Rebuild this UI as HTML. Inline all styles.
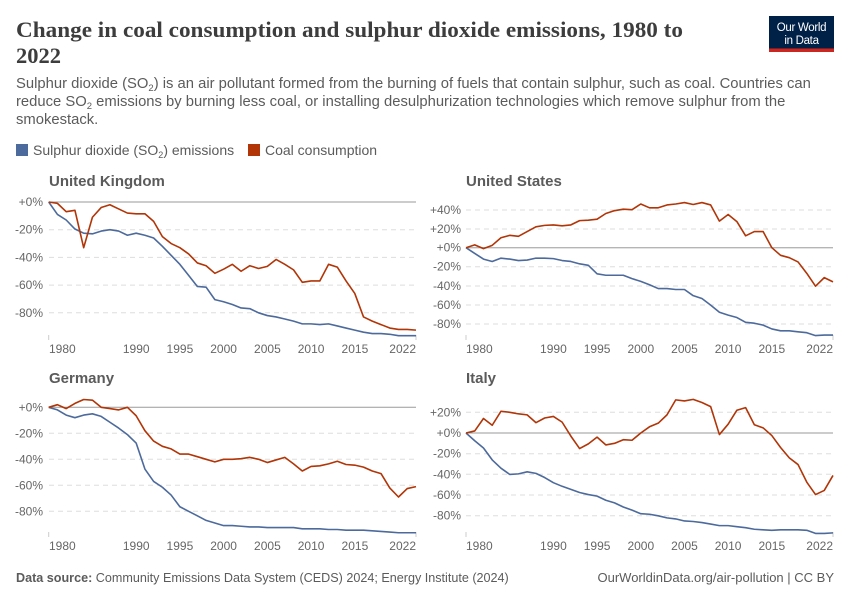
<!DOCTYPE html>
<html><head><meta charset="utf-8"><style>
html,body{margin:0;padding:0;background:#fff;}
svg{display:block;}
</style></head><body>
<svg width="850" height="600" viewBox="0 0 850 600" xmlns="http://www.w3.org/2000/svg" font-family="'Liberation Sans', sans-serif">
<rect width="850" height="600" fill="#fff"/>
<!-- Title -->
<text x="16" y="37" font-family="'Liberation Serif', serif" font-size="22.5" font-weight="bold" fill="#3d3d3d" textLength="667" lengthAdjust="spacingAndGlyphs">Change in coal consumption and sulphur dioxide emissions, 1980 to</text>
<text x="16" y="63" font-family="'Liberation Serif', serif" font-size="22.5" font-weight="bold" fill="#3d3d3d">2022</text>
<!-- Logo -->
<rect x="769" y="16" width="65" height="36" fill="#002147"/>
<rect x="769" y="48.5" width="65" height="3.5" fill="#ce261e"/>
<text x="801.5" y="31" text-anchor="middle" font-size="11.5" fill="#fff" letter-spacing="-0.3">Our World</text>
<text x="801.5" y="44" text-anchor="middle" font-size="11.5" fill="#fff" letter-spacing="-0.3">in Data</text>
<!-- Subtitle -->
<g font-size="14.8" fill="#5b5b5b">
<text x="16" y="88">Sulphur dioxide (SO<tspan font-size="9.5" dy="3">2</tspan><tspan dy="-3">) is an air pollutant formed from the burning of fuels that contain sulphur, such as coal. Countries can</tspan></text>
<text x="16" y="106">reduce SO<tspan font-size="9.5" dy="3">2</tspan><tspan dy="-3"> emissions by burning less coal, or installing desulphurization technologies which remove sulphur from the</tspan></text>
<text x="16" y="124">smokestack.</text>
</g>
<!-- Legend -->
<rect x="16" y="144" width="12" height="12" fill="#4c6a9c"/>
<text x="33" y="155" font-size="14" fill="#5b5b5b">Sulphur dioxide (SO<tspan font-size="9" dy="3">2</tspan><tspan dy="-3">) emissions</tspan></text>
<rect x="248" y="144" width="12" height="12" fill="#b13507"/>
<text x="265" y="155" font-size="14" fill="#5b5b5b">Coal consumption</text>

<!-- ===== United Kingdom ===== -->
<text x="49" y="186" font-size="15" font-weight="bold" fill="#5b5b5b">United Kingdom</text>
<g stroke="#dddddd" stroke-width="1" stroke-dasharray="5,4">
<line x1="49" y1="229.7" x2="416" y2="229.7"/><line x1="49" y1="257.4" x2="416" y2="257.4"/><line x1="49" y1="285.1" x2="416" y2="285.1"/><line x1="49" y1="312.8" x2="416" y2="312.8"/>
</g>
<line x1="49" y1="202" x2="416" y2="202" stroke="#9a9a9a" stroke-width="1"/>
<g font-size="12" fill="#666" text-anchor="end">
<text x="43" y="206">+0%</text><text x="43" y="233.7">-20%</text><text x="43" y="261.4">-40%</text><text x="43" y="289.1">-60%</text><text x="43" y="316.8">-80%</text>
</g>
<g stroke="#ccc"><line x1="48.7" y1="335" x2="48.7" y2="340"/><line x1="416" y1="335" x2="416" y2="340"/></g>
<g font-size="12" fill="#666" text-anchor="middle">
<text x="49" y="353" text-anchor="start">1980</text><text x="136.2" y="353">1990</text><text x="179.9" y="353">1995</text><text x="223.6" y="353">2000</text><text x="267.4" y="353">2005</text><text x="311.1" y="353">2010</text><text x="354.9" y="353">2015</text><text x="416" y="353" text-anchor="end">2022</text>
</g>
<g transform="translate(48.7,202) scale(8.745,1.385)" fill="none" stroke-width="1.6" stroke-linejoin="round">
<polyline vector-effect="non-scaling-stroke" stroke="#4c6a9c" points="0,0 1,9 2,13 3,19.5 4,22.5 5,23 6,21 7,20 8,21 9,24 10,22.5 11,24 12,26 13,32 14,38.5 15,45 16,53 17,61 18,61.5 19,70.5 20,72 21,74 22,76.5 23,77 24,80 25,82 26,83 27,84.5 28,86 29,88 30,88 31,88.5 32,88 33,89.5 34,91 35,92.5 36,94 37,95 38,95 39,95.5 40,96.5 41,96.5 42,96.5"/>
<polyline vector-effect="non-scaling-stroke" stroke="#b13507" points="0,0 1,1 2,7 3,6 4,33 5,11 6,4 7,2 8,5 9,8 10,8.5 11,8.5 12,14 13,25 14,30 15,33 16,37.5 17,44 18,46 19,51.5 20,48.5 21,45 22,50 23,46 24,48 25,46.5 26,41.5 27,45 28,49 29,58 30,57 31,57 32,45 33,47 34,57 35,66 36,83 37,86 38,88.5 39,91 40,92 41,92 42,92.5"/>
</g>

<!-- ===== United States ===== -->
<text x="466" y="186" font-size="15" font-weight="bold" fill="#5b5b5b">United States</text>
<g stroke="#dddddd" stroke-width="1" stroke-dasharray="5,4">
<line x1="466" y1="210" x2="833" y2="210"/><line x1="466" y1="229" x2="833" y2="229"/><line x1="466" y1="266.7" x2="833" y2="266.7"/><line x1="466" y1="286" x2="833" y2="286"/><line x1="466" y1="305" x2="833" y2="305"/><line x1="466" y1="324" x2="833" y2="324"/>
</g>
<line x1="466" y1="247.7" x2="833" y2="247.7" stroke="#b5b5b5" stroke-width="1.3"/>
<g font-size="12" fill="#666" text-anchor="end">
<text x="461" y="214">+40%</text><text x="461" y="233">+20%</text><text x="461" y="251.7">+0%</text><text x="461" y="270.7">-20%</text><text x="461" y="290">-40%</text><text x="461" y="309">-60%</text><text x="461" y="328">-80%</text>
</g>
<g stroke="#ccc"><line x1="466" y1="335" x2="466" y2="340"/><line x1="833" y1="335" x2="833" y2="340"/></g>
<g font-size="12" fill="#666" text-anchor="middle">
<text x="466" y="353" text-anchor="start">1980</text><text x="553.4" y="353">1990</text><text x="597.1" y="353">1995</text><text x="640.8" y="353">2000</text><text x="684.5" y="353">2005</text><text x="728.1" y="353">2010</text><text x="771.8" y="353">2015</text><text x="833" y="353" text-anchor="end">2022</text>
</g>
<g transform="translate(466,247.7) scale(8.738,0.95)" fill="none" stroke-width="1.6" stroke-linejoin="round">
<polyline vector-effect="non-scaling-stroke" stroke="#4c6a9c" points="0,0 1,6 2,12 3,14.5 4,11 5,12 6,13.5 7,13 8,11 9,11 10,11.5 11,13.5 12,14.5 13,17 14,18.5 15,27.5 16,29 17,29 18,29 19,32.5 20,35.5 21,39 22,43 23,43 24,44 25,44 26,50.5 27,53.5 28,60.5 29,68 30,71 31,73.5 32,78.5 33,79.5 34,81.5 35,85.5 36,87.5 37,87.5 38,88.5 39,89.5 40,92.5 41,92 42,92"/>
<polyline vector-effect="non-scaling-stroke" stroke="#b13507" points="0,0 1,-3 2,1 3,-2.5 4,-10.5 5,-13 6,-12 7,-17 8,-22 9,-23.5 10,-24 11,-23 12,-24 13,-28.5 14,-29 15,-30 16,-36 17,-39 18,-40.5 19,-40 20,-46 21,-42 22,-42 23,-45 24,-46 25,-47.5 26,-45.5 27,-47.5 28,-45 29,-28 30,-35 31,-27.5 32,-12.5 33,-17 34,-17 35,0 36,8 37,10.5 38,15 39,27 40,40.5 41,31.5 42,36"/>
</g>

<!-- ===== Germany ===== -->
<text x="49" y="383" font-size="15" font-weight="bold" fill="#5b5b5b">Germany</text>
<g stroke="#dddddd" stroke-width="1" stroke-dasharray="5,4">
<line x1="49" y1="433.3" x2="416" y2="433.3"/><line x1="49" y1="459.3" x2="416" y2="459.3"/><line x1="49" y1="485.3" x2="416" y2="485.3"/><line x1="49" y1="511.3" x2="416" y2="511.3"/>
</g>
<line x1="49" y1="407.3" x2="416" y2="407.3" stroke="#9a9a9a" stroke-width="1"/>
<g font-size="12" fill="#666" text-anchor="end">
<text x="43" y="411.3">+0%</text><text x="43" y="437.3">-20%</text><text x="43" y="463.3">-40%</text><text x="43" y="489.3">-60%</text><text x="43" y="515.3">-80%</text>
</g>
<g stroke="#ccc"><line x1="48.7" y1="532" x2="48.7" y2="537"/><line x1="416" y1="532" x2="416" y2="537"/></g>
<g font-size="12" fill="#666" text-anchor="middle">
<text x="49" y="550" text-anchor="start">1980</text><text x="136.2" y="550">1990</text><text x="179.9" y="550">1995</text><text x="223.6" y="550">2000</text><text x="267.4" y="550">2005</text><text x="311.1" y="550">2010</text><text x="354.9" y="550">2015</text><text x="416" y="550" text-anchor="end">2022</text>
</g>
<g transform="translate(48.7,407.3) scale(8.745,1.3)" fill="none" stroke-width="1.6" stroke-linejoin="round">
<polyline vector-effect="non-scaling-stroke" stroke="#4c6a9c" points="0,0 1,2 2,6 3,8 4,6 5,5 6,7 7,11.5 8,16 9,21 10,27.5 11,47.5 12,57 13,61.5 14,67.5 15,76.5 16,80 17,83.5 18,87 19,89 20,91 21,91 22,91.5 23,92 24,92 25,92.5 26,92.5 27,92.5 28,92.5 29,93.5 30,93.5 31,93.5 32,94 33,94 34,94.5 35,94.5 36,94.5 37,95 38,95.5 39,96 40,96.5 41,96.5 42,96.5"/>
<polyline vector-effect="non-scaling-stroke" stroke="#b13507" points="0,0 1,-2 2,1 3,-3 4,-6 5,-5.5 6,0 7,1 8,2 9,0 10,6.5 11,18 12,26 13,30 14,32 15,36 16,36 17,38 18,40 19,42 20,40 21,40 22,39.5 23,38.5 24,40 25,42.5 26,40.5 27,38.5 28,43.5 29,49 30,45.5 31,45 32,43.5 33,41.5 34,44 35,44.5 36,46 37,49 38,51 39,62 40,69 41,62.5 42,61"/>
</g>

<!-- ===== Italy ===== -->
<text x="466" y="383" font-size="15" font-weight="bold" fill="#5b5b5b">Italy</text>
<g stroke="#dddddd" stroke-width="1" stroke-dasharray="5,4">
<line x1="466" y1="412.3" x2="833" y2="412.3"/><line x1="466" y1="453.7" x2="833" y2="453.7"/><line x1="466" y1="474.3" x2="833" y2="474.3"/><line x1="466" y1="495" x2="833" y2="495"/><line x1="466" y1="515.7" x2="833" y2="515.7"/>
</g>
<line x1="466" y1="433" x2="833" y2="433" stroke="#9a9a9a" stroke-width="1"/>
<g font-size="12" fill="#666" text-anchor="end">
<text x="461" y="416.3">+20%</text><text x="461" y="437">+0%</text><text x="461" y="457.7">-20%</text><text x="461" y="478.3">-40%</text><text x="461" y="499">-60%</text><text x="461" y="519.7">-80%</text>
</g>
<g stroke="#ccc"><line x1="466" y1="532" x2="466" y2="537"/><line x1="833" y1="532" x2="833" y2="537"/></g>
<g font-size="12" fill="#666" text-anchor="middle">
<text x="466" y="550" text-anchor="start">1980</text><text x="553.4" y="550">1990</text><text x="597.1" y="550">1995</text><text x="640.8" y="550">2000</text><text x="684.5" y="550">2005</text><text x="728.1" y="550">2010</text><text x="771.8" y="550">2015</text><text x="833" y="550" text-anchor="end">2022</text>
</g>
<g transform="translate(466,433) scale(8.738,1.035)" fill="none" stroke-width="1.6" stroke-linejoin="round">
<polyline vector-effect="non-scaling-stroke" stroke="#4c6a9c" points="0,0 1,7.5 2,14.5 3,26 4,34 5,40 6,39.5 7,37.5 8,39 9,43 10,48 11,51.5 12,54.5 13,57.5 14,59.5 15,61 16,65 17,67.5 18,71.5 19,74.5 20,78 21,78.5 22,80 23,82 24,83 25,85 26,85.5 27,86.5 28,88 29,89.5 30,89.5 31,90.5 32,91.5 33,93 34,93.5 35,94 36,93.5 37,93.5 38,93.5 39,94 40,97 41,97 42,96.5"/>
<polyline vector-effect="non-scaling-stroke" stroke="#b13507" points="0,0 1,-2 2,-14 3,-7.5 4,-21 5,-20 6,-18.5 7,-17.5 8,-10 9,-14.5 10,-16 11,-10.5 12,3 13,15 14,10.5 15,4 16,11.5 17,10 18,6.5 19,7 20,0 21,-6 22,-9.5 23,-17.5 24,-32 25,-31 26,-32.5 27,-29.5 28,-25.5 29,1.5 30,-8.5 31,-22 32,-24.5 33,-8 34,-5 35,2.5 36,14 37,24 38,30.5 39,47.5 40,59.5 41,55.5 42,41"/>
</g>

<!-- Footer -->
<text x="16" y="582" font-size="12.6" fill="#5b5b5b"><tspan font-weight="bold">Data source:</tspan> Community Emissions Data System (CEDS) 2024; Energy Institute (2024)</text>
<text x="834" y="582" font-size="13" fill="#5b5b5b" text-anchor="end">OurWorldinData.org/air-pollution | CC BY</text>
</svg>
</body></html>
